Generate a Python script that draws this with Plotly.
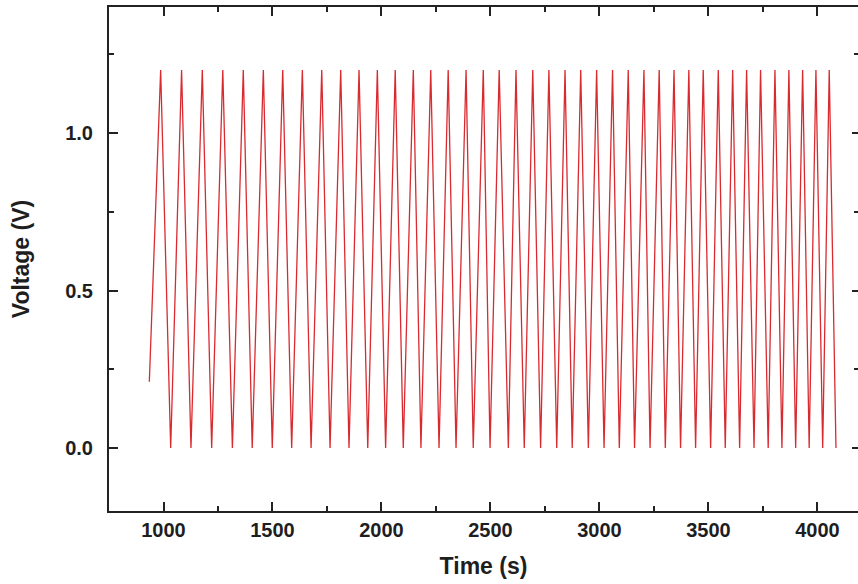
import plotly.graph_objects as go

# Data (time in s, voltage in V)
start_time = [935]
start_voltage = [0.21]
peak_times = [987, 1083, 1178, 1272, 1366, 1458, 1547, 1637, 1726, 1813,
              1897, 1981, 2063, 2146, 2226, 2306, 2388, 2467, 2540, 2617,
              2694, 2768, 2842, 2914, 2987, 3060, 3132, 3204, 3274, 3342,
              3410, 3476, 3545, 3611, 3675, 3739, 3805, 3869, 3932, 3993, 4054]
trough_times = [1033, 1126, 1221, 1316, 1407, 1499, 1588, 1677, 1764, 1851,
                1937, 2019, 2100, 2181, 2264, 2342, 2421, 2498, 2582, 2655,
                2730, 2804, 2875, 2949, 3021, 3091, 3161, 3232, 3302, 3372,
                3441, 3510, 3577, 3643, 3709, 3774, 3837, 3900, 3962, 4024, 4085]
peak_voltage = [1.2] * len(peak_times)
trough_voltage = [0.0] * len(trough_times)

x_tickvals = [1000, 1500, 2000, 2500, 3000, 3500, 4000]
y_tickvals = [0.0, 0.5, 1.0]

# Build the charge/discharge path
t = list(start_time)
v = list(start_voltage)
for tp, vp, tt, vt in zip(peak_times, peak_voltage, trough_times, trough_voltage):
    t += [tp, tt]
    v += [vp, vt]

fig = go.Figure()
fig.add_trace(go.Scatter(x=t, y=v, mode="lines",
                         line=dict(color="#d92a2f", width=1.3),
                         showlegend=False, hoverinfo="skip"))
fig.add_trace(go.Scatter(x=[], y=[], yaxis="y2", showlegend=False))

font_family = "Liberation Sans, Arial, sans-serif"
axis_color = "#222222"
text_color = "#1e1e1e"

fig.update_layout(
    width=858, height=584,
    margin=dict(l=109, r=0, t=7, b=73),
    paper_bgcolor="white", plot_bgcolor="white",
    font=dict(family=font_family, color=text_color),
    xaxis=dict(
        range=[750, 4186], automargin=False,
        tickvals=x_tickvals,
        ticktext=[str(x) for x in x_tickvals],
        ticks="inside", ticklen=9, tickwidth=1.6, tickcolor=axis_color,
        minor=dict(dtick=250, tick0=750, ticks="inside", ticklen=5,
                   tickwidth=1.6, tickcolor=axis_color),
        showline=True, linecolor=axis_color, linewidth=2, mirror="ticks",
        showgrid=False, zeroline=False,
        tickfont=dict(size=20, family=font_family, color=text_color, weight="bold"),
        title=dict(text="Time (s)", standoff=18,
                   font=dict(size=23, family=font_family, color=text_color, weight="bold")),
    ),
    yaxis=dict(
        range=[-0.2, 1.4], automargin=False,
        tickvals=y_tickvals,
        ticktext=["0.0", "0.5", "1.0"],
        ticks="inside", ticklen=9, tickwidth=1.6, tickcolor=axis_color,
        minor=dict(dtick=0.25, tick0=0, ticks="inside", ticklen=5,
                   tickwidth=1.6, tickcolor=axis_color),
        showline=True, linecolor=axis_color, linewidth=2, mirror=False,
        showgrid=False, zeroline=False,
        ticklabelstandoff=10,
        tickfont=dict(size=20, family=font_family, color=text_color, weight="bold"),
        title=dict(text="Voltage (V)", standoff=29,
                   font=dict(size=23, family=font_family, color=text_color, weight="bold")),
    ),
    yaxis2=dict(
        range=[-0.2, 1.4], overlaying="y", side="right", automargin=False,
        tickvals=y_tickvals, showticklabels=False,
        ticks="inside", ticklen=6, tickwidth=1.6, tickcolor=axis_color,
        minor=dict(dtick=0.25, tick0=0, ticks="inside", ticklen=4,
                   tickwidth=1.6, tickcolor=axis_color),
        showline=False, showgrid=False, zeroline=False,
    ),
)

fig.write_html("out.html",
               config={"displayModeBar": False},
               post_script="document.body.style.margin='0';document.body.style.overflow='hidden';")
